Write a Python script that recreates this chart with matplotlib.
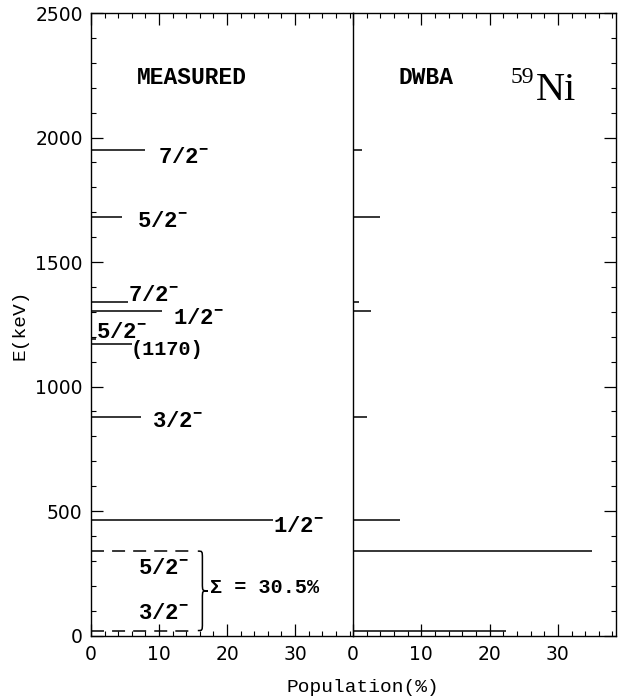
import matplotlib
matplotlib.use('Agg')
import matplotlib.pyplot as plt
from matplotlib.path import Path
from matplotlib.patches import PathPatch
from matplotlib.ticker import MultipleLocator

# ---- data ----
energies = [20, 339, 465, 878, 1170, 1189, 1302, 1338, 1680, 1948]          # keV
measured = [15.25, 15.25, 26.8, 7.4, 6.0, 0.7, 10.4, 5.5, 4.5, 8.0]          # %
dwba     = [22.4, 35.0, 6.9, 2.0, 0.0, 0.0, 2.7, 0.9, 4.0, 1.3]              # %
unresolved = [True, True, False, False, False, False, False, False, False, False]
spins = ['3/2', '5/2', '1/2', '3/2', '(1170)', '5/2', '1/2', '7/2', '5/2', '7/2']
parity = ['-', '-', '-', '-', '', '-', '-', '-', '-', '-']
sum_label = 'Σ = 30.5%'
panel_titles = ['MEASURED', 'DWBA']
nucleus_mass = '59'
nucleus_sym = 'Ni'
x_ticks_major = [0, 10, 20, 30]

# ---- annotation placement (data coords, left panel) ----
label_pos = [(6.9, 90), (6.9, 271), (26.8, 437), (9.0, 859), (5.9, 1147),
             (0.75, 1215), (12.1, 1275), (5.4, 1367), (6.8, 1661), (9.85, 1918)]

plt.rcParams['mathtext.fontset'] = 'custom'
plt.rcParams['mathtext.rm'] = 'Liberation Mono:bold'
plt.rcParams['mathtext.default'] = 'rm'
plt.rcParams['font.family'] = ['DejaVu Sans']

fig = plt.figure(figsize=(6.18, 7.0), dpi=100)
axL = fig.add_axes([0.1472, 0.0921, 0.4239, 0.8893])
axR = fig.add_axes([0.5711, 0.0921, 0.4255, 0.8893], sharey=axL)

XMAX = 38.5
for ax in (axL, axR):
    ax.set_xlim(0, XMAX)
    ax.set_ylim(0, 2500)
    ax.xaxis.set_major_locator(MultipleLocator(10))
    ax.xaxis.set_minor_locator(MultipleLocator(2))
    ax.yaxis.set_major_locator(MultipleLocator(500))
    ax.yaxis.set_minor_locator(MultipleLocator(100))
    for s in ax.spines.values():
        s.set_linewidth(1.0)
    ax.tick_params(which='major', direction='in', length=8.6, width=0.9,
                   labelsize=13.5)
    ax.tick_params(which='minor', direction='in', length=3.3, width=0.8)
    ax.tick_params(axis='x', which='both', top=True, bottom=True, pad=6.5)
    ax.tick_params(axis='y', pad=6)

axL.spines['right'].set_visible(False)
axR.patch.set_visible(False)
axL.tick_params(axis='y', which='both', left=True, right=False)
axR.tick_params(axis='y', which='both', left=False, right=True,
                labelleft=False, labelright=False)
axL.set_xticks(x_ticks_major)
axR.set_xticks(x_ticks_major)

lw = 1.1
dash = (0, (8.5, 5.3))
for e, m, d, u in zip(energies, measured, dwba, unresolved):
    if m > 0:
        axL.plot([0, m], [e, e], color='k', lw=lw,
                 linestyle=dash if u else '-', solid_capstyle='butt')
    if d > 0:
        axR.plot([0, d], [e, e], color='k', lw=lw, solid_capstyle='butt')

mono = 'Liberation Mono'
for (x, y), sp, par in zip(label_pos, spins, parity):
    txt = sp + (r'$^{-}$' if par == '-' else '')
    fs = 14.5 if par == '' else 16
    axL.text(x, y, txt, ha='left', va='center', fontsize=fs,
             family=mono, fontweight='bold')

# brace around the unresolved doublet
ue = [e for e, u in zip(energies, unresolved) if u]
um = [m for m, u in zip(measured, unresolved) if u]
x0 = max(um) + 0.45
w = 1.5
xm = x0 + w * 0.45
y1, y0 = max(ue), min(ue)
ym = 0.5 * (y1 + y0)
a = 30
verts = [(x0, y1), (xm, y1), (xm, y1), (xm, y1 - a),
         (xm, ym + a),
         (xm, ym), (xm, ym), (x0 + w, ym),
         (xm, ym), (xm, ym), (xm, ym - a),
         (xm, y0 + a),
         (xm, y0), (xm, y0), (x0, y0)]
codes = [Path.MOVETO, Path.CURVE4, Path.CURVE4, Path.CURVE4,
         Path.LINETO,
         Path.CURVE4, Path.CURVE4, Path.CURVE4,
         Path.CURVE4, Path.CURVE4, Path.CURVE4,
         Path.LINETO,
         Path.CURVE4, Path.CURVE4, Path.CURVE4]
axL.add_patch(PathPatch(Path(verts, codes), fc='none', ec='k', lw=1.1))
axL.text(x0 + w + 0.3, ym + 15, sum_label, ha='left', va='center',
         fontsize=14.5, family=mono, fontweight='bold')

axL.text(0.175, 0.897, panel_titles[0], transform=axL.transAxes,
         ha='left', va='center', fontsize=16.5, family=mono, fontweight='bold')
axR.text(0.174, 0.897, panel_titles[1], transform=axR.transAxes,
         ha='left', va='center', fontsize=16.5, family=mono, fontweight='bold')
axR.text(0.599, 0.897, nucleus_mass, transform=axR.transAxes,
         ha='left', va='center', fontsize=17, family='Liberation Serif')
axR.text(0.695, 0.860, nucleus_sym, transform=axR.transAxes,
         ha='left', va='baseline', fontsize=29, family='Liberation Serif')

fig.text(20 / 618, 1 - 325 / 700, 'E(keV)', rotation=90, ha='center',
         va='center', fontsize=14, family=mono)
fig.text(363 / 618, 1 - 687 / 700, 'Population(%)', ha='center',
         va='center', fontsize=14, family=mono)

fig.savefig('out.png', dpi=100)
